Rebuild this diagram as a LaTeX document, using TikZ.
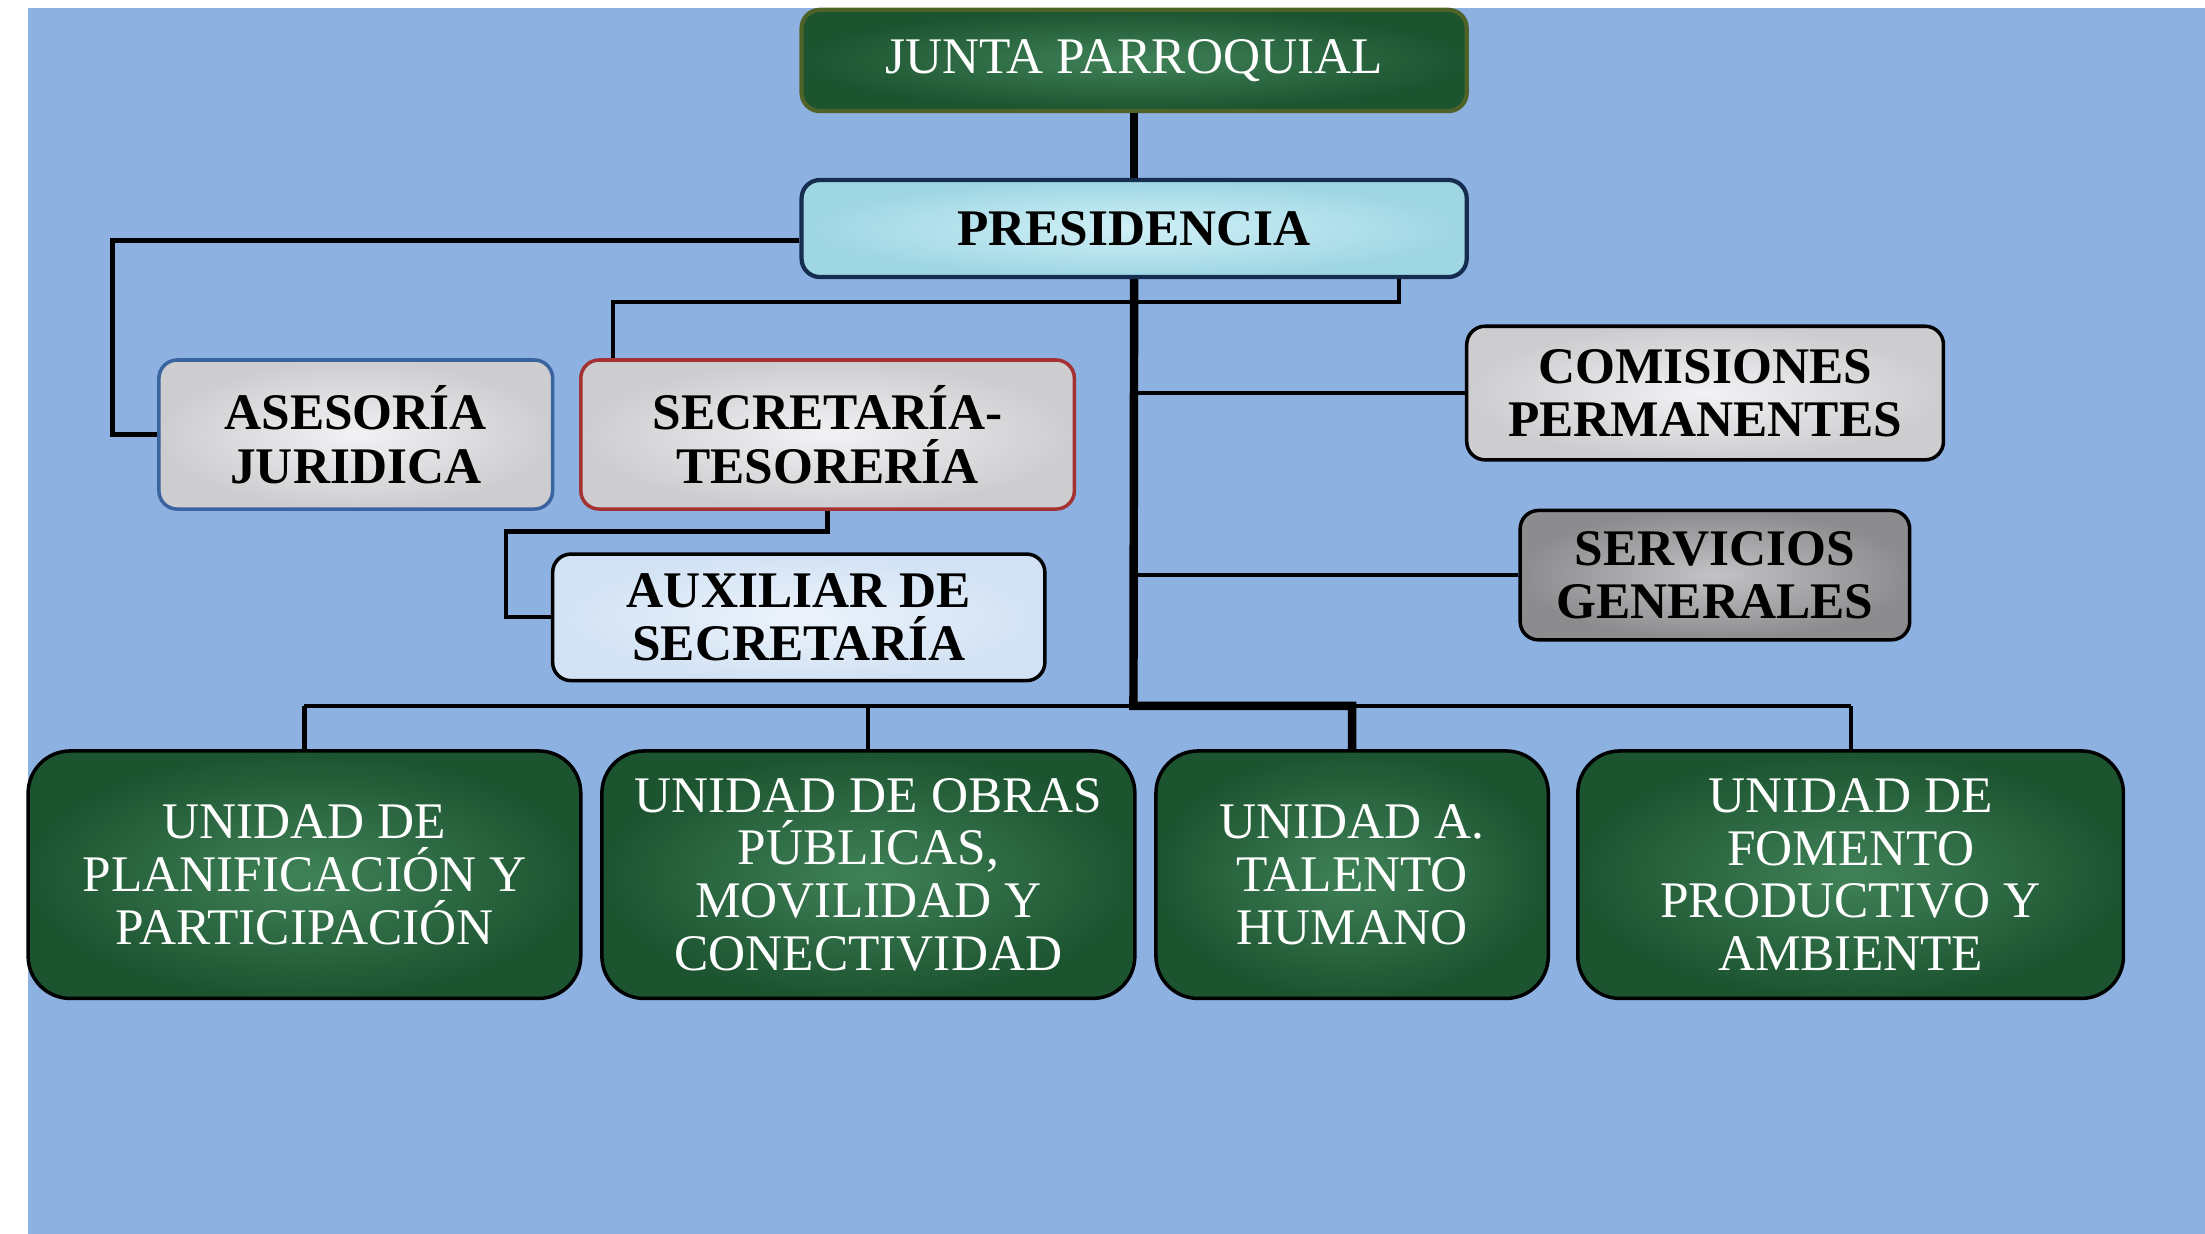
\documentclass[tikz,border=0pt]{standalone}
\usepackage{fontspec}
\setmainfont{Liberation Serif}
\definecolor{bgblue}{RGB}{141,177,225}
\definecolor{gdark}{RGB}{28,84,48}
\definecolor{glight}{RGB}{64,130,88}
\definecolor{olivebd}{RGB}{79,98,40}
\definecolor{navybd}{RGB}{23,45,80}
\definecolor{cyanin}{RGB}{208,240,246}
\definecolor{cyanout}{RGB}{158,214,228}
\definecolor{greyin}{RGB}{242,242,244}
\definecolor{greyout}{RGB}{205,205,208}
\definecolor{darkgin}{RGB}{195,195,197}
\definecolor{darkgout}{RGB}{140,140,143}
\definecolor{auxin}{RGB}{236,243,251}
\definecolor{auxout}{RGB}{210,226,244}
\definecolor{bluebd}{RGB}{58,100,160}
\definecolor{redbd}{RGB}{165,50,50}
\begin{document}
\begin{tikzpicture}[x=1pt,y=-1pt,
  basebox/.style={rounded corners=13pt, align=center, inner sep=0pt, line width=2.5pt},
  blacktxt/.style={font=\fontsize{36.5}{38}\selectfont\bfseries, text=black},
  whitetxt/.style={font=\fontsize{36.5}{37.5}\selectfont, text=white},
  greenbox/.style={basebox, inner color=glight, outer color=gdark, whitetxt},
  marble/.style={basebox, inner color=greyin, outer color=greyout, blacktxt},
  unitbox/.style={greenbox, draw=black, rounded corners=30pt, minimum height=176pt},
  thinln/.style={line width=3pt, black},
  thickln/.style={line width=6pt, black}]
\useasboundingbox (0,0) rectangle (1568,877);
\fill[bgblue] (20,6) rectangle (1575,885);

% nodes
\node[greenbox, draw=olivebd, line width=3pt, minimum width=473pt, minimum height=72pt] (junta) at (806.5,43) {JUNTA PARROQUIAL};
\node[basebox, draw=navybd, line width=3pt, inner color=cyanin, outer color=cyanout, blacktxt, minimum width=473pt, minimum height=69pt] (pres) at (806.5,162.5) {PRESIDENCIA};
\node[marble, draw=bluebd, minimum width=280pt, minimum height=106pt] (ases) at (253,309) {ASESORÍA\\JURIDICA};
\node[marble, draw=redbd, minimum width=351pt, minimum height=106pt] (secr) at (588.5,309) {SECRETARÍA-\\TESORERÍA};
\node[basebox, draw=black, inner color=auxin, outer color=auxout, blacktxt, minimum width=350pt, minimum height=90pt] (aux) at (568,439) {AUXILIAR DE\\SECRETARÍA};
\node[marble, draw=black, minimum width=339pt, minimum height=95pt] (comi) at (1212.5,279.5) {COMISIONES\\PERMANENTES};
\node[basebox, draw=black, inner color=darkgin, outer color=darkgout, blacktxt, minimum width=277pt, minimum height=92pt] (serv) at (1219.5,409) {SERVICIOS\\GENERALES};
\node[unitbox, minimum width=393pt] (u1) at (216.5,622) {UNIDAD DE\\PLANIFICACIÓN Y\\PARTICIPACIÓN};
\node[unitbox, minimum width=379pt] (u2) at (617.5,622) {UNIDAD DE OBRAS\\PÚBLICAS,\\MOVILIDAD Y\\CONECTIVIDAD};
\node[unitbox, minimum width=279pt] (u3) at (961.5,622) {UNIDAD A.\\TALENTO\\HUMANO};
\node[unitbox, minimum width=388pt] (u4) at (1316,622) {UNIDAD DE\\FOMENTO\\PRODUCTIVO Y\\AMBIENTE};

% helper coordinates
\coordinate (a1) at (80,171);
\coordinate (pk) at (995,215);
\coordinate (sk) at (436,215);
\coordinate (b1) at (360,378);
\coordinate (bus) at (806,502);

% connectors
\draw[thickln] (junta.south) -- (pres.north);
\draw[thinln] (pres.west |- a1) -- (a1) |- (ases.west);
\draw[thinln] (pres.south -| pk) -- (pk) -- (sk) -- (secr.north -| sk);
\draw[thinln] (secr.south) |- (b1) |- (aux.west);
\draw[thinln] (comi.west -| bus) -- (comi.west);
\draw[thinln] (serv.west -| bus) -- (serv.west);
\draw[thinln] (u1.north |- bus) -- (u4.north |- bus);
\draw[thinln] (u1.north |- bus) -- (u1.north);
\draw[thinln] (u2.north |- bus) -- (u2.north);
\draw[thinln] (u4.north |- bus) -- (u4.north);
\draw[thickln] (pres.south) -- (bus) -- (u3.north |- bus) -- (u3.north);
\end{tikzpicture}
\end{document}
